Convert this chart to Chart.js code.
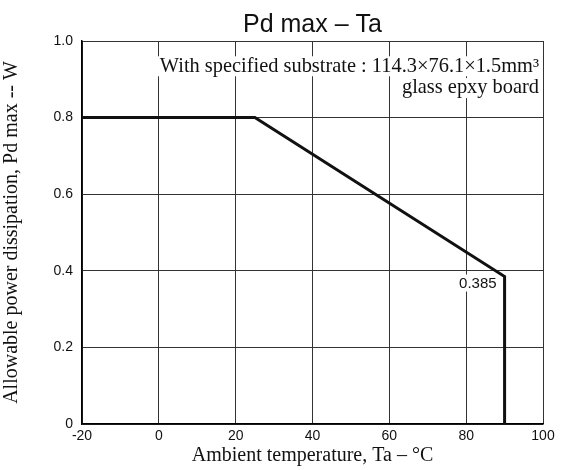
<!DOCTYPE html>
<html>
<head>
<meta charset="utf-8">
<script src="https://cdn.jsdelivr.net/npm/chart.js@4/dist/chart.umd.min.js"></script>
<style>
html,body{margin:0;padding:0;background:#fff;}
#wrap{width:565px;height:470px;}
</style>
</head>
<body>
<div id="wrap"><canvas id="c" width="565" height="470"></canvas></div>
<script>
// Data
const tempC = [-20, 25, 90, 90];
const powerW = [0.8, 0.8, 0.385, 0];
const xTickValues = [-20, 0, 20, 40, 60, 80, 100];
const yTickLabels = ['0', '0.2', '0.4', '0.6', '0.8', '1.0'];
const chartTitle = 'Pd max \u2013 Ta';
const xTitle = 'Ambient temperature, Ta \u2013 \u00B0C';
const yTitle = 'Allowable power dissipation, Pd max -- W';
const noteLines = ['With specified substrate : 114.3\u00D776.1\u00D71.5mm\u00B3', 'glass epxy board'];
const pointLabel = '0.385';

const serif = '"Liberation Serif", "Times New Roman", serif';
const sans = '"Liberation Sans", Arial, sans-serif';

const notePlugin = {
  id: 'notes',
  beforeDatasetsDraw(chart) {
    const ctx = chart.ctx;
    const xs = chart.scales.x, ys = chart.scales.y;
    ctx.save();
    // substrate note, right aligned near the top-right of the plot
    ctx.font = '20.4px ' + serif;
    ctx.textAlign = 'right';
    ctx.textBaseline = 'middle';
    const rx = xs.getPixelForValue(100) - 4;
    const lineYs = [ys.getPixelForValue(0.934), ys.getPixelForValue(0.877)];
    noteLines.forEach((t, i) => {
      const w = ctx.measureText(t).width;
      ctx.fillStyle = '#fff';
      ctx.fillRect(rx - w - 2, lineYs[i] - 10, w + 3, 20);
      ctx.fillStyle = '#111';
      ctx.fillText(t, rx, lineYs[i]);
    });
    // 0.385 label next to the knee
    ctx.font = '15px ' + sans;
    const px = xs.getPixelForValue(tempC[2]) - 8;
    const py = ys.getPixelForValue(powerW[2]) + 7;
    const w2 = ctx.measureText(pointLabel).width;
    ctx.fillStyle = '#fff';
    ctx.fillRect(px - w2 - 1, py - 9, w2 + 2, 17);
    ctx.fillStyle = '#111';
    ctx.fillText(pointLabel, px, py);
    ctx.restore();
  }
};

new Chart(document.getElementById('c'), {
  type: 'line',
  data: {
    datasets: [{
      data: tempC.map((x, i) => ({x: x, y: powerW[i]})),
      borderColor: '#111',
      borderWidth: 3,
      pointRadius: 0,
      tension: 0,
      fill: false
    }]
  },
  options: {
    responsive: false,
    animation: false,
    devicePixelRatio: 1,
    layout: { padding: { left: 0, right: 22, top: 0, bottom: 0 } },
    plugins: {
      legend: { display: false },
      tooltip: { enabled: false },
      title: {
        display: true,
        text: chartTitle,
        fullSize: false,
        color: '#111',
        font: { family: sans, size: 25, weight: 'normal', lineHeight: 1.2 },
        padding: { top: 10, bottom: 1 }
      }
    },
    scales: {
      x: {
        type: 'linear',
        min: -20, max: 100,
        afterBuildTicks(s) { s.ticks = xTickValues.map(v => ({value: v})); },
        afterFit(s) { s.height = 46; },
        grid: { color: '#333', lineWidth: 1, drawTicks: false },
        border: { color: '#000', width: 1.5 },
        ticks: { color: '#111', font: { family: sans, size: 14 }, padding: 4, maxRotation: 0, autoSkip: false },
        title: {
          display: true, text: xTitle, color: '#111',
          font: { family: serif, size: 20, lineHeight: 1.2 },
          padding: { top: 0, bottom: 2 }
        }
      },
      y: {
        type: 'linear',
        min: 0, max: 1,
        afterBuildTicks(s) { s.ticks = yTickLabels.map(l => ({value: parseFloat(l)})); },
        afterFit(s) { s.width = 82; },
        grid: { color: '#333', lineWidth: 1, drawTicks: false },
        border: { color: '#000', width: 1.5 },
        ticks: {
          color: '#111', font: { family: sans, size: 14 }, padding: 9,
          callback: (v, i) => yTickLabels[i]
        },
        title: {
          display: true, text: yTitle, color: '#111',
          font: { family: serif, size: 20, lineHeight: 1.2 },
          padding: { top: 0, bottom: 0 }
        }
      }
    }
  },
  plugins: [notePlugin]
});
</script>
</body>
</html>
